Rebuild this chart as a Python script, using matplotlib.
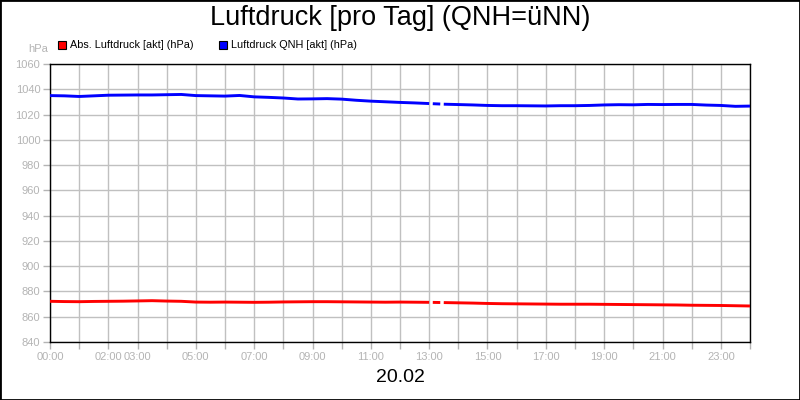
"""
Luftdruck pro Tag - daily pressure chart
"""
import numpy as np
import matplotlib.pyplot as plt
from matplotlib.patches import Rectangle

plt.rcParams['font.family'] = ['Liberation Sans', 'DejaVu Sans']
plt.rcParams['lines.scale_dashes'] = False

# Hours of the day, half-hour steps; 13:00-13:30 is missing in the logger data
hours_a = [0.0, 0.5, 1.0, 1.5, 2.0, 2.5, 3.0, 3.5, 4.0, 4.5, 5.0, 5.5, 6.0, 6.5,
           7.0, 7.5, 8.0, 8.5, 9.0, 9.5, 10.0, 10.5, 11.0, 11.5, 12.0, 12.5, 13.0]
hours_b = [13.5, 14.0, 14.5, 15.0, 15.5, 16.0, 16.5, 17.0, 17.5, 18.0, 18.5, 19.0,
           19.5, 20.0, 20.5, 21.0, 21.5, 22.0, 22.5, 23.0, 23.5, 24.0]

# QNH (blue)
qnh_a = [1035.0, 1034.8, 1034.3, 1034.8, 1035.3, 1035.4, 1035.5, 1035.5, 1035.7,
         1035.9, 1035.0, 1034.8, 1034.6, 1035.1, 1034.0, 1033.6, 1033.1, 1032.3,
         1032.4, 1032.6, 1032.2, 1031.3, 1030.6, 1030.1, 1029.6, 1029.2, 1028.7]
qnh_b = [1028.2, 1027.9, 1027.6, 1027.2, 1027.0, 1027.0, 1026.9, 1026.8, 1027.0,
         1027.0, 1027.2, 1027.6, 1027.8, 1027.7, 1028.0, 1027.9, 1028.0, 1028.0,
         1027.5, 1027.2, 1026.5, 1026.7]

# absolute pressure (red)
abs_a = [872.2, 872.0, 871.9, 872.1, 872.2, 872.3, 872.5, 872.7, 872.4, 872.2,
         871.6, 871.5, 871.6, 871.5, 871.4, 871.5, 871.7, 871.8, 871.9, 871.9,
         871.8, 871.7, 871.6, 871.5, 871.6, 871.5, 871.4]
abs_b = [871.2, 871.0, 870.8, 870.5, 870.3, 870.2, 870.1, 870.0, 869.9, 869.9,
         869.9, 869.8, 869.7, 869.6, 869.5, 869.4, 869.3, 869.1, 869.0, 868.9,
         868.7, 868.5]

x_labels = {0: '00:00', 2: '02:00', 3: '03:00', 5: '05:00', 7: '07:00', 9: '09:00',
            11: '11:00', 13: '13:00', 15: '15:00', 17: '17:00', 19: '19:00',
            21: '21:00', 23: '23:00'}

grey = '#b4b4b4'

fig = plt.figure(figsize=(8, 4), dpi=100)
ax = fig.add_axes([0.0625, 0.145, 0.875, 0.695])

for hs_a, hs_b, va, vb, col in [(hours_a, hours_b, abs_a, abs_b, '#ff0000'),
                                (hours_a, hours_b, qnh_a, qnh_b, '#0000ff')]:
    ax.plot(hs_a, va, color=col, lw=2.1, solid_capstyle='butt', zorder=3)
    ax.plot(hs_b, vb, color=col, lw=2.1, solid_capstyle='butt', zorder=3)
    # dashed connector across the data gap: gap - dash - gap
    ax.plot([hs_a[-1], hs_b[0]], [va[-1], vb[0]], color=col, lw=2.1,
            linestyle=(5.4, (5.4, 2.6)), dash_capstyle='butt', zorder=3)

ax.set_xlim(0, 24)
ax.set_ylim(840, 1060)
ax.set_xticks(range(0, 25))
ax.set_xticklabels([x_labels.get(h, '') for h in range(0, 25)])
ax.set_yticks(range(840, 1061, 20))
ax.tick_params(axis='both', colors=grey, labelcolor=grey, labelsize=8,
               length=5, width=1, pad=2)
ax.grid(True, color='#c0c0c0', lw=1)
ax.set_axisbelow(True)
for sp in ax.spines.values():
    sp.set_color('black')
    sp.set_linewidth(1)

# texts
fig.text(0.5, 0.955, 'Luftdruck [pro Tag] (QNH=üNN)', ha='center', va='center',
         fontsize=19.5)
fig.text(0.5, 0.055, '20.02', ha='center', va='center', fontsize=14)
fig.text(0.06, 0.877, 'hPa', ha='right', va='center', fontsize=8, color=grey)

# legend boxes
leg = [('Abs. Luftdruck [akt] (hPa)', '#ff0000', 58),
       ('Luftdruck QNH [akt] (hPa)', '#0000ff', 219)]
for txt, col, px in leg:
    fig.patches.append(Rectangle((px / 800, 1 - 49 / 400), 8 / 800, 8 / 400,
                                 transform=fig.transFigure, facecolor=col,
                                 edgecolor='black', lw=0.8))
    fig.text((px + 12) / 800, 1 - 45 / 400, txt, ha='left', va='center',
             fontsize=7.8)

# outer frame
fig.patches.append(Rectangle((0, 0), 1, 1, transform=fig.transFigure,
                             fill=False, edgecolor='black', lw=2))

fig.savefig('out.png', dpi=100)
